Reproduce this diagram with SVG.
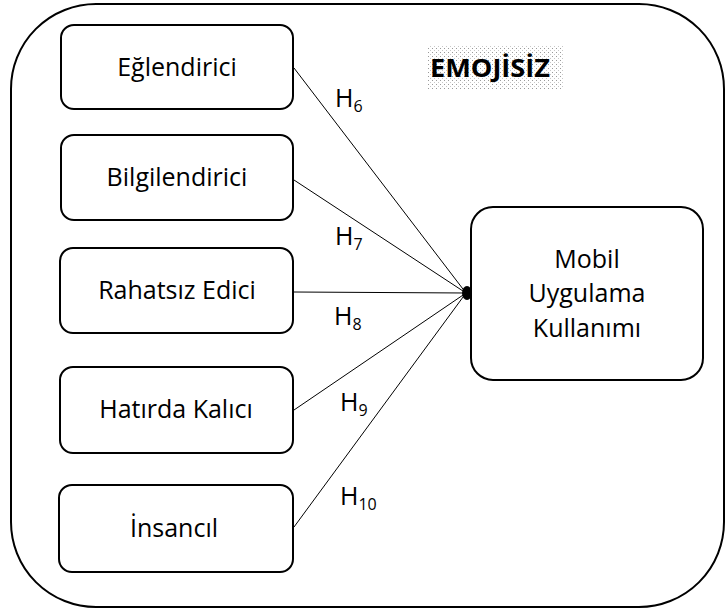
<svg xmlns="http://www.w3.org/2000/svg" width="726" height="613" viewBox="0 0 726 613">
<style>
.box{fill:#fff;stroke:#000;stroke-width:2}
.t{font-family:"Open Sans","Liberation Sans",sans-serif;font-size:25px;fill:#000;text-anchor:middle}
.h{font-family:"Open Sans","Liberation Sans",sans-serif;font-size:25px;fill:#000}
.sub{font-size:16px}
.c{stroke:#000;stroke-width:1;fill:none}
</style>
<defs>
<pattern id="dots" width="4" height="4" patternUnits="userSpaceOnUse">
<rect x="0" y="0" width="1" height="1" fill="#9a9a9a"/>
<rect x="2" y="2" width="1" height="1" fill="#c8c8c8"/>
</pattern>
</defs>
<rect width="726" height="613" fill="#fff"/>
<rect id="frame" x="11" y="4" width="713" height="603" rx="85" ry="85" fill="none" stroke="#000" stroke-width="2"/>
<g id="title">
<rect x="427" y="45" width="136" height="45" fill="url(#dots)"/>
<text x="490" y="77" text-anchor="middle" font-family="'Open Sans','Liberation Sans',sans-serif" font-size="25" font-weight="bold" fill="#000" textLength="120" lengthAdjust="spacingAndGlyphs">EMOJİSİZ</text>
</g>
<g id="connectors">
<line class="c" x1="294" y1="68" x2="466" y2="293"/>
<line class="c" x1="294" y1="180" x2="466" y2="293"/>
<line class="c" x1="294" y1="292" x2="466" y2="293"/>
<line class="c" x1="294" y1="410" x2="466" y2="293"/>
<line class="c" x1="294" y1="527" x2="466" y2="293"/>
<ellipse cx="467" cy="293" rx="5" ry="7" fill="#000"/>
<text class="h" x="335" y="107">H<tspan class="sub" dy="5">6</tspan></text>
<text class="h" x="335" y="245">H<tspan class="sub" dy="5">7</tspan></text>
<text class="h" x="334" y="325">H<tspan class="sub" dy="5">8</tspan></text>
<text class="h" x="340" y="411">H<tspan class="sub" dy="5">9</tspan></text>
<text class="h" x="340" y="505">H<tspan class="sub" dy="5">10</tspan></text>
</g>
<g id="n1"><rect class="box" x="61" y="25" width="232" height="84" rx="13"/><text class="t" x="177" y="76">Eğlendirici</text></g>
<g id="n2"><rect class="box" x="61" y="135" width="232" height="85" rx="13"/><text class="t" x="177" y="186">Bilgilendirici</text></g>
<g id="n3"><rect class="box" x="60" y="248" width="233" height="85" rx="13"/><text class="t" x="177" y="299">Rahatsız Edici</text></g>
<g id="n4"><rect class="box" x="60" y="367" width="233" height="86" rx="13"/><text class="t" x="176" y="418">Hatırda Kalıcı</text></g>
<g id="n5"><rect class="box" x="59" y="485" width="234" height="87" rx="13"/><text class="t" x="174" y="537">İnsancıl</text></g>
<g id="n6"><rect class="box" x="471" y="207" width="232" height="173" rx="22"/>
<text class="t" x="587" y="268">Mobil</text>
<text class="t" x="587" y="302">Uygulama</text>
<text class="t" x="587" y="337">Kullanımı</text></g>
</svg>
